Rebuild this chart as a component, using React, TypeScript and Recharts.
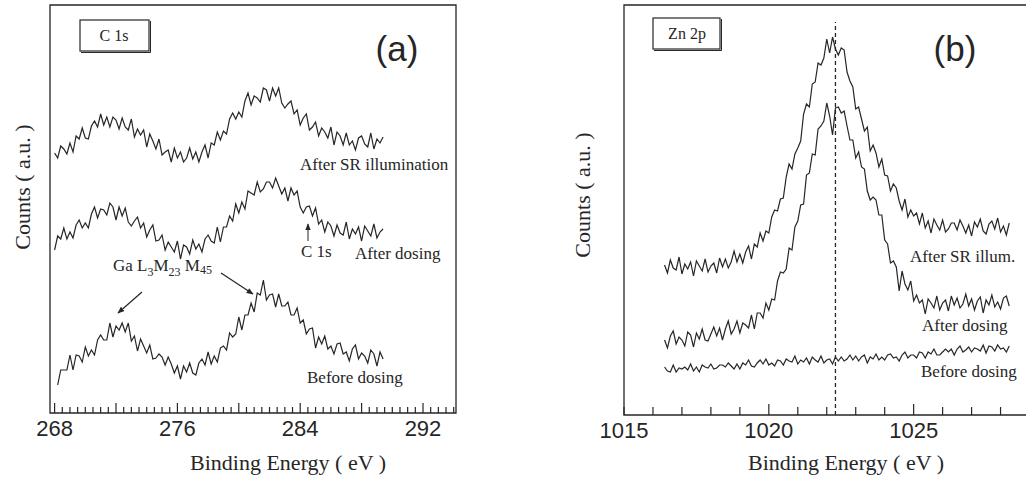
import { LineChart, Line, XAxis, YAxis, ReferenceArea, ReferenceLine } from 'recharts';

const INK = '#262626';
const SERIF = '"Liberation Serif", "Times New Roman", serif';
const SANS = '"Liberation Sans", Arial, sans-serif';

// (a) C 1s region, sampled every 0.2 eV from 268 eV
const cStart = 268;
const cStep = 0.2;
const cAfterSR = [
  260, 255, 267, 264, 259, 270, 261, 277, 274, 285,
  275, 274, 287, 292, 286, 299, 288, 296, 286, 296,
  293, 284, 295, 286, 283, 294, 276, 284, 278, 283,
  266, 279, 272, 264, 274, 258, 261, 263, 251, 265,
  255, 261, 251, 255, 265, 254, 261, 251, 261, 268,
  255, 270, 268, 281, 273, 282, 279, 294, 300, 294,
  301, 296, 312, 320, 308, 317, 315, 311, 325, 323,
  312, 325, 317, 325, 310, 305, 309, 312, 299, 303,
  288, 295, 299, 283, 286, 291, 277, 285, 281, 275,
  286, 268, 281, 277, 268, 280, 268, 272, 263, 275,
  277, 269, 266, 280, 264, 274, 270, 276,
];
const cAfterDosing = [
  163, 177, 174, 185, 174, 181, 175, 188, 193, 185,
  190, 185, 199, 206, 195, 204, 203, 198, 210, 206,
  193, 206, 197, 205, 191, 187, 192, 196, 185, 190,
  176, 183, 188, 172, 173, 178, 163, 171, 166, 161,
  172, 154, 168, 166, 159, 173, 164, 169, 161, 174,
  178, 172, 170, 186, 171, 186, 186, 197, 192, 209,
  200, 211, 204, 222, 220, 218, 231, 221, 224, 231,
  231, 225, 235, 227, 219, 225, 212, 225, 218, 222,
  206, 200, 206, 207, 197, 205, 189, 193, 181, 191,
  187, 177, 188, 180, 178, 191, 174, 184, 179, 186,
  172, 187, 182, 177, 189, 175, 181, 184,
];
const cBeforeDosing = [
  null, 28, 43, 43, 43, 58, 43, 58, 57, 51,
  66, 57, 63, 58, 73, 78, 73, 73, 90, 76,
  87, 83, 90, 81, 90, 72, 77, 62, 74, 67,
  60, 68, 54, 55, 59, 56, 48, 56, 49, 40,
  47, 34, 47, 41, 50, 40, 38, 50, 54, 48,
  61, 49, 57, 51, 65, 67, 63, 80, 76, 79,
  96, 83, 98, 98, 110, 101, 120, 118, 133, 113,
  118, 119, 106, 119, 107, 107, 111, 98, 98, 105,
  90, 93, 79, 84, 85, 65, 76, 69, 77, 64,
  67, 59, 69, 70, 59, 61, 52, 64, 68, 54,
  60, 57, 50, 63, 59, 47, 61, 54,
];
const cTickLabels = [268, 276, 284, 292];

// (b) Zn 2p region, sampled every 0.1 eV from 1016.4 eV
const znStart = 1016.4;
const znStep = 0.1;
const znAfterSR = [
  150, 142, 155, 147, 145, 158, 141, 151, 146, 153,
  139, 154, 149, 144, 156, 143, 149, 152, 142, 157,
  148, 156, 147, 153, 164, 153, 161, 152, 163, 169,
  156, 171, 168, 182, 174, 184, 182, 198, 205, 204,
  216, 217, 238, 251, 246, 261, 267, 274, 301, 311,
  308, 331, 333, 352, 350, 357, 376, 362, 378, 366,
  360, 367, 365, 343, 334, 328, 306, 308, 296, 284,
  288, 264, 270, 262, 248, 256, 240, 239, 224, 231,
  227, 214, 205, 216, 198, 205, 199, 202, 191, 202,
  187, 194, 182, 196, 190, 185, 195, 183, 186, 192,
  192, 185, 195, 189, 182, 190, 179, 193, 188, 196,
  184, 181, 191, 194, 186, 197, 183, 189, 180, 192,
];
const znAfterDosing = [
  75, 67, 79, 84, 71, 78, 75, 69, 83, 80,
  68, 82, 76, 86, 75, 74, 81, 88, 79, 87,
  75, 86, 94, 81, 86, 94, 82, 92, 90, 87,
  100, 86, 102, 102, 97, 112, 105, 116, 115, 134,
  143, 142, 146, 167, 165, 188, 194, 210, 211, 240,
  242, 261, 260, 286, 289, 294, 312, 299, 280, 307,
  308, 302, 304, 289, 275, 275, 257, 263, 248, 246,
  224, 215, 218, 215, 200, 200, 175, 171, 152, 154,
  148, 124, 144, 131, 125, 134, 114, 120, 112, 115,
  101, 116, 112, 107, 119, 105, 112, 115, 104, 119,
  110, 117, 107, 111, 121, 109, 116, 105, 114, 118,
  102, 115, 110, 120, 108, 113, 106, 117, 119, 109,
];
const znBeforeDosing = [
  48, 44, 43, 50, 43, 47, 46, 48, 45, 51,
  44, 48, 43, 50, 48, 47, 51, 46, 47, 50,
  50, 48, 52, 49, 46, 51, 46, 52, 50, 55,
  49, 48, 52, 55, 51, 56, 50, 52, 49, 55,
  54, 50, 56, 54, 53, 59, 51, 55, 53, 57,
  51, 58, 55, 53, 59, 52, 55, 56, 51, 58,
  54, 58, 54, 56, 60, 55, 59, 54, 58, 60,
  52, 58, 56, 61, 55, 58, 55, 60, 61, 57,
  58, 54, 60, 63, 57, 60, 60, 57, 63, 62,
  57, 63, 61, 66, 60, 60, 63, 66, 63, 66,
  60, 66, 69, 63, 65, 68, 63, 67, 66, 64,
  70, 62, 69, 68, 64, 70, 66, 67, 63, 69,
];
const znTickLabels = [1015, 1020, 1025];
const znPeak = 1022.3;

const cRows = cAfterSR.map((v, i) => ({
  e: +(cStart + i * cStep).toFixed(2),
  sr: v,
  dosed: cAfterDosing[i],
  before: cBeforeDosing[i],
}));
const znRows = znAfterSR.map((v, i) => ({
  e: +(znStart + i * znStep).toFixed(2),
  sr: v,
  dosed: znAfterDosing[i],
  before: znBeforeDosing[i],
}));

const cTicks = Array.from({ length: 53 }, (_, i) => 268 + i * 0.5);
const znTicks = Array.from({ length: 15 }, (_, i) => 1015 + i);

// inward ticks, with a label under the few that carry one
function makeTick(labels: number[], isMajor: (v: number) => boolean, minor: number, major: number) {
  return (props: any) => {
    const { x, y, payload } = props;
    const v = payload.value;
    return (
      <g>
        <line x1={x} x2={x} y1={y} y2={y - (isMajor(v) ? major : minor)} stroke={INK} strokeWidth={1.2} />
        {labels.includes(v) && (
          <text x={x} y={y + 23} textAnchor="middle" fontFamily={SANS} fontSize={22} fill={INK}>
            {v}
          </text>
        )}
      </g>
    );
  };
}

const lineProps = { type: 'linear' as const, stroke: INK, strokeWidth: 1.2, dot: false, isAnimationActive: false };

function PanelA() {
  return (
    <LineChart width={470} height={479} data={cRows} margin={{ top: 5, right: 14, bottom: 16, left: 50 }}>
      <XAxis
        dataKey="e"
        type="number"
        domain={[267.7, 294.15]}
        allowDataOverflow
        ticks={cTicks}
        interval={0}
        axisLine={false}
        tickLine={false}
        tickSize={0}
        tickMargin={0}
        height={50}
        tick={makeTick(cTickLabels, (v) => (v - 268) % 4 === 0, 6, 10)}
      />
      <YAxis hide width={0} domain={[0, 408]} allowDataOverflow />
      <ReferenceArea x1={267.7} x2={294.15} y1={0} y2={408} fill="#fff" fillOpacity={0} stroke={INK} strokeWidth={1.3} />
      <Line dataKey="sr" {...lineProps} />
      <Line dataKey="dosed" {...lineProps} />
      <Line dataKey="before" {...lineProps} />
    </LineChart>
  );
}

function PanelB() {
  return (
    <LineChart width={520} height={479} data={znRows} margin={{ top: 5, right: 36, bottom: 14, left: 64 }}>
      <XAxis
        dataKey="e"
        type="number"
        domain={[1015, 1029.5]}
        allowDataOverflow
        ticks={znTicks}
        interval={0}
        axisLine={false}
        tickLine={false}
        tickSize={0}
        tickMargin={0}
        height={50}
        tick={makeTick(znTickLabels, (v) => v === 1020 || v === 1025, 8, 11)}
      />
      <YAxis hide width={0} domain={[0, 410]} allowDataOverflow />
      <ReferenceArea x1={1015} x2={1029.5} y1={0} y2={410} fill="#fff" fillOpacity={0} stroke={INK} strokeWidth={1.3} />
      <ReferenceLine
        segment={[{ x: znPeak, y: 0 }, { x: znPeak, y: 393 }]}
        stroke={INK}
        strokeWidth={1.3}
        strokeDasharray="4 3"
      />
      <Line dataKey="sr" {...lineProps} />
      <Line dataKey="dosed" {...lineProps} />
      <Line dataKey="before" {...lineProps} />
    </LineChart>
  );
}

function Notes() {
  const t = { fontFamily: SERIF, fill: INK };
  return (
    <svg width={1026} height={479} style={{ position: 'absolute', left: 0, top: 0, pointerEvents: 'none' }}>
      <defs>
        <marker id="ah" viewBox="0 0 10 10" refX="9" refY="5" markerWidth="7" markerHeight="7" markerUnits="userSpaceOnUse" orient="auto">
          <path d="M0,1 L10,5 L0,9 z" fill={INK} />
        </marker>
      </defs>

      {/* panel (a) */}
      <rect x={80} y={20} width={69} height={31} fill="none" stroke={INK} strokeWidth={1.2} />
      <line x1={81} y1={52.5} x2={150.5} y2={52.5} stroke={INK} strokeWidth={1} />
      <line x1={150.5} y1={21} x2={150.5} y2={52.5} stroke={INK} strokeWidth={1} />
      <text x={114} y={41} textAnchor="middle" fontSize={16} {...t}>C 1s</text>
      <text x={397} y={61} textAnchor="middle" fontSize={35} fontFamily={SANS} fill={INK}>(a)</text>
      <text x={22} y={187} textAnchor="middle" fontSize={22} transform="rotate(-90 22 187)" dominantBaseline="central" {...t}>
        Counts ( a.u. )
      </text>
      <text x={288} y={470} textAnchor="middle" fontSize={22} {...t}>Binding Energy ( eV )</text>
      <text x={300} y={170} fontSize={17} {...t}>After SR illumination</text>
      <text x={355} y={259} fontSize={17} {...t}>After dosing</text>
      <text x={301} y={257} fontSize={17} {...t}>C 1s</text>
      <line x1={308} y1={241} x2={308} y2={224} stroke={INK} strokeWidth={1} markerEnd="url(#ah)" />
      <text x={307} y={383} fontSize={17} {...t}>Before dosing</text>
      <text x={113} y={271} fontSize={17} {...t}>
        Ga L<tspan dy={5} fontSize={12}>3</tspan>
        <tspan dy={-5}>M</tspan>
        <tspan dy={5} fontSize={12}>23</tspan>
        <tspan dy={-5}> M</tspan>
        <tspan dy={3} fontSize={12}>45</tspan>
      </text>
      <line x1={142} y1={292} x2={118} y2={313} stroke={INK} strokeWidth={1.2} markerEnd="url(#ah)" />
      <line x1={221} y1={273} x2={253} y2={294} stroke={INK} strokeWidth={1.2} markerEnd="url(#ah)" />

      {/* panel (b) */}
      <rect x={653} y={18} width={67} height={31} fill="none" stroke={INK} strokeWidth={1.2} />
      <line x1={654} y1={50.5} x2={721.5} y2={50.5} stroke={INK} strokeWidth={1} />
      <line x1={721.5} y1={19} x2={721.5} y2={50.5} stroke={INK} strokeWidth={1} />
      <text x={687} y={39} textAnchor="middle" fontSize={16} {...t}>Zn 2p</text>
      <text x={955} y={61} textAnchor="middle" fontSize={35} fontFamily={SANS} fill={INK}>(b)</text>
      <text x={582} y={195} textAnchor="middle" fontSize={22} transform="rotate(-90 582 195)" dominantBaseline="central" {...t}>
        Counts ( a.u. )
      </text>
      <text x={846} y={470} textAnchor="middle" fontSize={22} {...t}>Binding Energy ( eV )</text>
      <text x={910} y={262} fontSize={17} {...t}>After SR illum.</text>
      <text x={922} y={331} fontSize={17} {...t}>After dosing</text>
      <text x={921} y={377} fontSize={17} {...t}>Before dosing</text>
    </svg>
  );
}

export default function App() {
  return (
    <div style={{ position: 'fixed', left: 0, top: 0, width: 1026, height: 479, overflow: 'hidden', background: '#fff' }}>
      <div style={{ position: 'absolute', left: 0, top: 0 }}>
        <PanelA />
      </div>
      <div style={{ position: 'absolute', left: 560, top: 0 }}>
        <PanelB />
      </div>
      <Notes />
    </div>
  );
}
